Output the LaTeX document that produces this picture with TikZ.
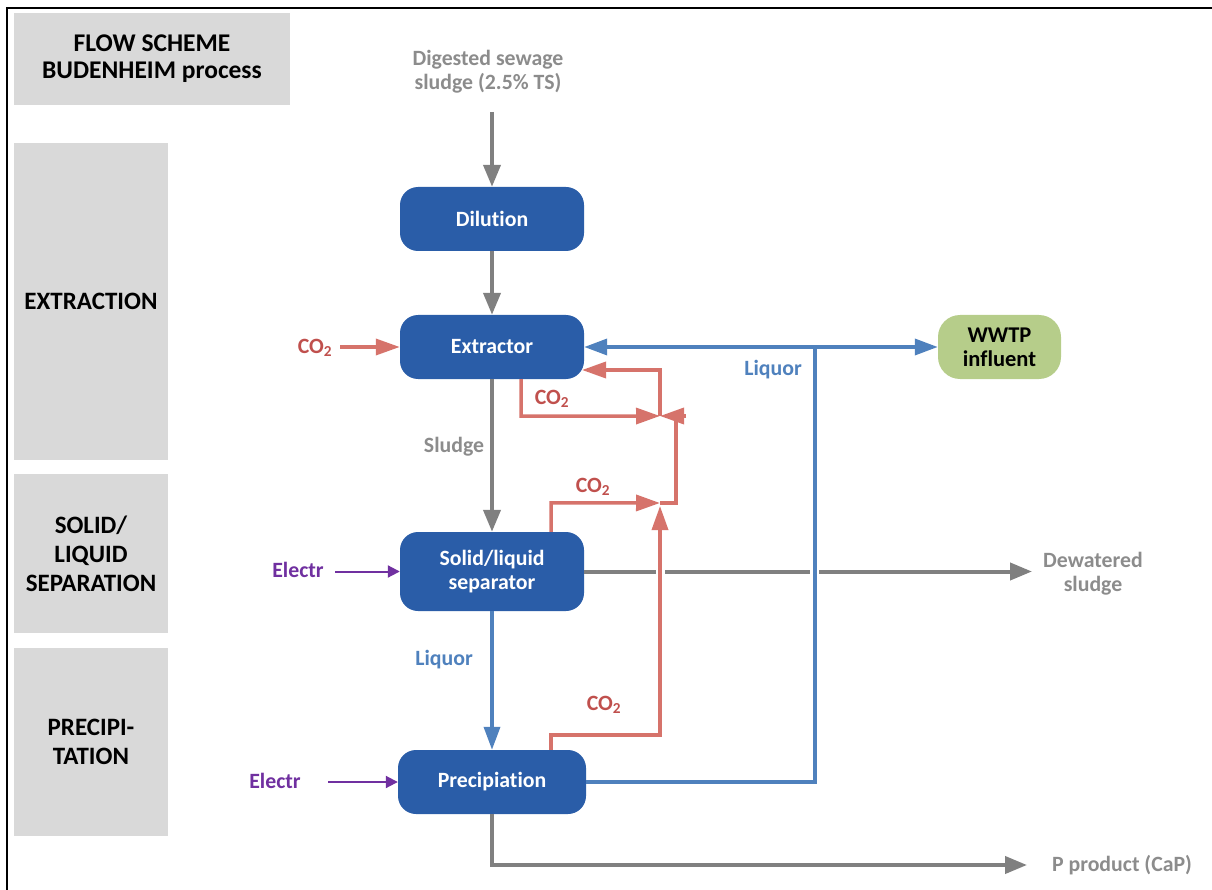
\documentclass[tikz,border=0pt]{standalone}
\usepackage{fontspec}
\setmainfont{Carlito}[Ligatures={NoCommon}]
\usetikzlibrary{arrows.meta}
\definecolor{pblue}{HTML}{2A5DA8}
\definecolor{lgrey}{HTML}{D9D9D9}
\definecolor{agrey}{HTML}{808080}
\definecolor{tgrey}{HTML}{8C8C8C}
\definecolor{ared}{HTML}{D6736B}
\definecolor{tred}{HTML}{C0504D}
\definecolor{ablue}{HTML}{4F81BD}
\definecolor{apurple}{HTML}{7030A0}
\definecolor{wgreen}{HTML}{B6CD8A}
\begin{document}
\begin{tikzpicture}[x=1pt,y=-1pt,
  font=\fontsize{21.8}{24}\selectfont\bfseries,
  proc/.style={fill=pblue, rounded corners=18pt, text=white, align=center,
    minimum width=184pt, minimum height=64pt, inner sep=0pt},
  side/.style={fill=lgrey, text=black, align=center, inner sep=0pt,
    font=\fontsize{25}{29}\selectfont\bfseries},
  garrow/.style={draw=agrey, line width=4pt, -{Triangle[length=22pt,width=17pt]}},
  rline/.style={draw=ared, line width=3.5pt},
  rarrow/.style={rline, -{Triangle[length=24pt,width=16pt]}},
  bline/.style={draw=ablue, line width=3.5pt},
  barrow/.style={bline, -{Triangle[length=23pt,width=16pt]}},
  parrow/.style={draw=apurple, line width=2pt, -{Triangle[length=12pt,width=12pt]}},
  glabel/.style={text=tgrey, align=center},
  rlabel/.style={text=tred},
  blabel/.style={text=ablue},
  plabel/.style={text=apurple}
]
\useasboundingbox (0,0) rectangle (1212,890);
\draw[black, line width=2pt] (7,890) -- (7,8) -- (1212,8);

% side boxes
\node[side, minimum width=276pt, minimum height=92pt, font=\fontsize{25.5}{27}\selectfont\bfseries] (title) at (152,59) {FLOW SCHEME\\BUDENHEIM process};
\node[side, minimum width=154pt, minimum height=317pt] (sext) at (91,301.5) {EXTRACTION};
\node[side, minimum width=154pt, minimum height=159pt] (ssep) at (91,553.5) {SOLID/\\LIQUID\\SEPARATION};
\node[side, minimum width=154pt, minimum height=188pt] (spre) at (91,742) {PRECIPI-\\TATION};

% process nodes
\node[proc] (dil) at (492,219) {Dilution};
\node[proc] (ext) at (492,347) {Extractor};
\node[proc, minimum height=79pt] (sep) at (492,571.5) {Solid/liquid\\separator};
\node[proc, minimum width=188pt] (pre) at (492,782) {Precipiation};
\node[fill=wgreen, rounded corners=22pt, minimum width=123pt, minimum height=64pt, inner sep=0pt, align=center, text=black, font=\fontsize{22.5}{24}\selectfont\bfseries] (wwtp) at (999.5,347) {WWTP\\influent};

% labels
\node[glabel] (lsrc) at (488,72) {Digested sewage\\sludge (2.5\% TS)};
\node[glabel] (lslu) at (454,447) {Sludge};
\node[glabel] (ldew) at (1093,573.5) {Dewatered\\sludge};
\node[glabel] (lpp) at (1122,865) {P product (CaP)};
\node[blabel] (lliq1) at (444,660) {Liquor};
\node[blabel] (lliq2) at (773,370) {Liquor};
\node[rlabel] (lco2a) at (315,348) {CO\textsubscript{2}};
\node[rlabel] (lco2b) at (552,399) {CO\textsubscript{2}};
\node[rlabel] (lco2c) at (593,487) {CO\textsubscript{2}};
\node[rlabel] (lco2d) at (604,705) {CO\textsubscript{2}};
\node[plabel] (lel1) at (298,570) {Electr};
\node[plabel] (lel2) at (275,781) {Electr};

% coordinates
\coordinate (src) at (492,112);
\coordinate (pprod) at (1027,865);
\coordinate (dew) at (1032,571.5);
\coordinate (co2in) at (340,347);
\coordinate (el1) at (335,571.5);
\coordinate (el2) at (328,782);
\coordinate (bj) at (815,347);
\coordinate (j1) at (660,503);
\coordinate (j1b) at (660,506);
\coordinate (j2) at (660,416);
\coordinate (j2r) at (686,416);
\coordinate (rt) at (582,370);

% grey flows
\draw[garrow] (src) -- (dil.north);
\draw[garrow] (dil) -- (ext);
\draw[garrow] (ext) -- (sep);
\draw[garrow] (pre.south) |- (pprod);
\draw[garrow] (sep.east) -- (dew);
\draw[white, line width=7pt] (656,571.5) -- (665,571.5);
\draw[white, line width=7pt] (810,571.5) -- (819,571.5);

% liquor
\draw[barrow] (sep) -- (pre);
\draw[bline] (pre.east) -| (bj);
\draw[barrow] (bj) -- (ext.east);
\draw[barrow] (bj) -- (wwtp.west);

% CO2
\draw[rarrow] (co2in) -- (ext.west);
\draw[rarrow] ([xshift=59pt]pre.north) -- ++(0,-15) -| (j1b);
\draw[rarrow] ([xshift=59pt]sep.north) -- ++(0,-29) -- (j1);
\draw[rline] (j1) -- ++(16,0) -- (676,416);
\draw[rarrow] (j2r) -- (j2);
\draw[rarrow] ([xshift=29pt]ext.south) -- ++(0,37) -- (j2);
\draw[rarrow] (j2) -- ++(0,-46) -- (rt);

% electricity
\draw[parrow] (el1) -- (sep.west);
\draw[parrow] (el2) -- (pre.west);
\end{tikzpicture}
\end{document}
